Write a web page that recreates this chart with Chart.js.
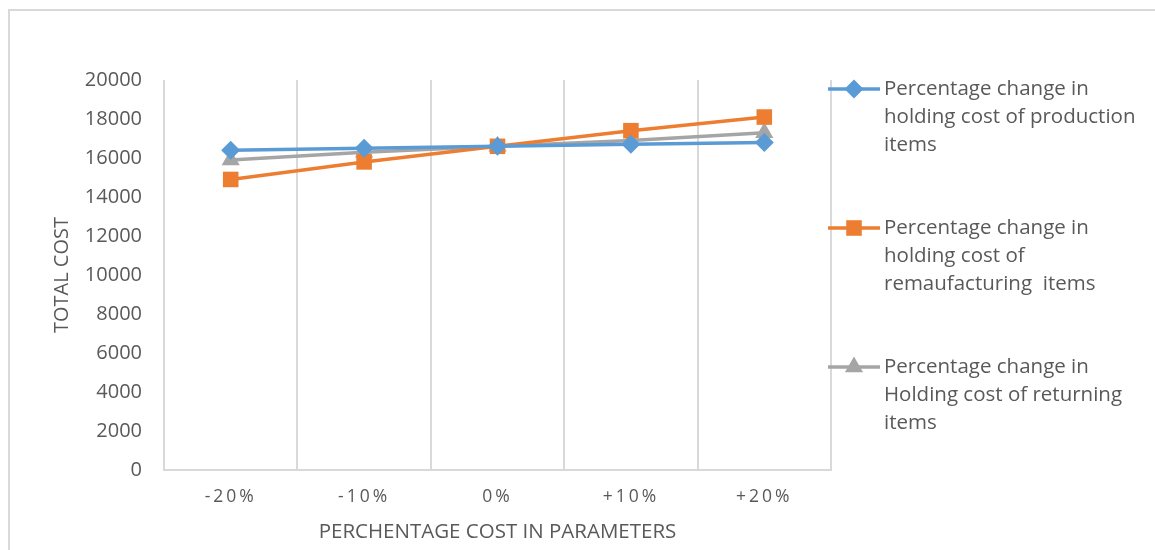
<!DOCTYPE html>
<html>
<head>
<meta charset="utf-8">
<script src="https://cdn.jsdelivr.net/npm/chart.js@4/dist/chart.umd.min.js"></script>
<style>
  html, body { margin: 0; padding: 0; background: #fff; }
  #wrap { position: relative; width: 1155px; height: 550px; overflow: hidden; }
  #frame { position: absolute; left: 8px; top: 9px; width: 1300px; height: 700px;
           border-top: 2px solid #d9d9d9; border-left: 2px solid #d9d9d9; }
  canvas { position: absolute; left: 0; top: 0; }
</style>
</head>
<body>
<div id="wrap">
  <div id="frame"></div>
  <canvas id="c" width="1155" height="550"></canvas>
</div>
<script>
// Parameter change levels along the x axis
const categories = ['-20%', '-10%', '0%', '+10%', '+20%'];

// Total cost for each sensitivity series
const productionHolding = [16400, 16500, 16600, 16700, 16800];
const remanufacturingHolding = [14900, 15800, 16600, 17400, 18100];
const returningHolding = [15900, 16300, 16600, 16900, 17300];

// Legend text, one line per entry
const productionLabel = ['Percentage change in', 'holding cost of production', 'items'];
const remanufacturingLabel = ['Percentage change in', 'holding cost of', 'remaufacturing  items'];
const returningLabel = ['Percentage change in', 'Holding cost of returning', 'items'];

const yTicks = [0, 2000, 4000, 6000, 8000, 10000, 12000, 14000, 16000, 18000, 20000];

const FONT = '"Open Sans", "Noto Sans", sans-serif';
const TEXT = '#595959';
const GRID = '#d9d9d9';

const series = [
  { label: productionLabel, data: productionHolding, color: '#5b9bd5', style: 'rectRot', radius: 9.5 },
  { label: remanufacturingLabel, data: remanufacturingHolding, color: '#ed7d31', style: 'rect', radius: 11 },
  { label: returningLabel, data: returningHolding, color: '#a5a5a5', style: 'triangle', radius: 10.5 }
];

// Multi-line legend drawn to the right of the plot
const sideLegend = {
  id: 'sideLegend',
  afterDraw(chart) {
    const ctx = chart.ctx;
    const x0 = 828, x1 = 880, textX = 884;
    const startY = 89, lineGap = 28, entryGap = 139;
    ctx.save();
    chart.data.datasets.forEach((ds, i) => {
      const y = startY + i * entryGap;
      ctx.strokeStyle = ds.borderColor;
      ctx.lineWidth = 3.5;
      ctx.beginPath();
      ctx.moveTo(x0, y);
      ctx.lineTo(x1, y);
      ctx.stroke();
      ctx.fillStyle = ds.backgroundColor;
      Chart.helpers.drawPoint(ctx, {
        pointStyle: ds.pointStyle, radius: ds.pointRadius, rotation: 0, borderWidth: 0
      }, (x0 + x1) / 2, y);
      ctx.fillStyle = TEXT;
      ctx.font = '20.5px ' + FONT;
      ctx.textAlign = 'left';
      ctx.textBaseline = 'middle';
      ds.legendLines.forEach((t, k) => ctx.fillText(t, textX, y + k * lineGap));
    });
    ctx.restore();
  }
};

// Spaced-out lettering for the category labels
const spacedTicks = {
  id: 'spacedTicks',
  afterLayout(chart) {
    const sx = chart.scales.x;
    if (sx._spaced) return;
    const orig = sx.drawLabels.bind(sx);
    sx.drawLabels = function (area) {
      const ctx = this.ctx;
      ctx.save();
      ctx.letterSpacing = '3px';
      orig(area);
      ctx.restore();
    };
    sx._spaced = true;
  }
};

new Chart(document.getElementById('c'), {
  type: 'line',
  data: {
    labels: categories,
    datasets: series.map(s => ({
      label: s.label.join(' '),
      legendLines: s.label,
      data: s.data,
      borderColor: s.color,
      backgroundColor: s.color,
      borderWidth: 3.5,
      pointStyle: s.style,
      pointRadius: s.radius,
      pointHoverRadius: s.radius,
      pointBorderWidth: 0,
      tension: 0,
      fill: false
    }))
  },
  options: {
    responsive: false,
    animation: false,
    events: [],
    layout: { padding: { left: 0, top: 80, right: 324, bottom: 0 } },
    plugins: {
      legend: { display: false },
      tooltip: { enabled: false },
      title: { display: false }
    },
    scales: {
      x: {
        type: 'category',
        offset: true,
        grid: { display: true, offset: true, color: GRID, lineWidth: 2, drawTicks: false },
        border: { display: true, color: GRID, width: 2 },
        ticks: { color: TEXT, font: { family: FONT, size: 17.5 }, padding: 17, maxRotation: 0 },
        title: {
          display: true, text: 'PERCHENTAGE COST IN PARAMETERS', color: TEXT,
          font: { family: FONT, size: 20.5 }, padding: { top: 0, bottom: 6 }
        },
        afterFit(scale) { scale.height = 80; }
      },
      y: {
        min: 0, max: 20000,
        afterBuildTicks(scale) { scale.ticks = yTicks.map(v => ({ value: v })); },
        grid: { display: false, drawTicks: false },
        border: { display: false },
        ticks: {
          color: TEXT, font: { family: FONT, size: 20 }, padding: 22,
          callback: v => String(v)
        },
        title: {
          display: true, text: 'TOTAL COST', color: TEXT,
          font: { family: FONT, size: 20 }, padding: { top: 50, bottom: 0 }
        },
        afterFit(scale) { scale.width = 164; }
      }
    }
  },
  plugins: [sideLegend, spacedTicks]
});
</script>
</body>
</html>
